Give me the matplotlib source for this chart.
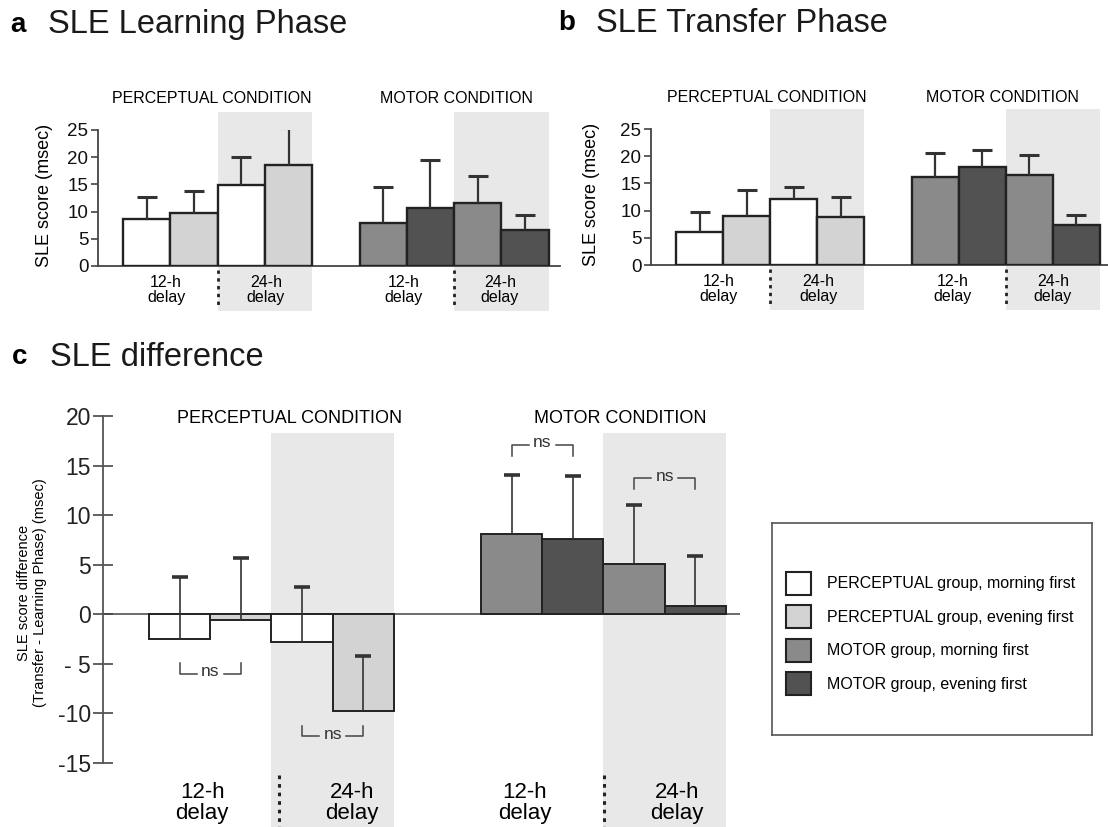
import numpy as np
import matplotlib
matplotlib.use("Agg")
import matplotlib.pyplot as plt
from matplotlib.patches import Rectangle, Patch

plt.rcParams['font.family'] = ['Liberation Sans', 'DejaVu Sans']

W, H = 1108, 827

# bar order in each condition: 12-h morning, 12-h evening, 24-h morning, 24-h evening
groups = ['PERCEPTUAL group, morning first', 'PERCEPTUAL group, evening first',
          'MOTOR group, morning first', 'MOTOR group, evening first']
colors = ['#ffffff', '#d3d3d3', '#8a8a8a', '#525252']
conditions = ['PERCEPTUAL CONDITION', 'MOTOR CONDITION']
delay_labels = ['12-h\ndelay', '24-h\ndelay']

# learning phase (msec), mean and SEM
learn_perc = [8.6, 9.7, 14.8, 18.6]
learn_perc_err = [4.0, 4.1, 5.2, 6.8]
learn_motor = [7.9, 10.7, 11.5, 6.6]
learn_motor_err = [6.7, 8.7, 5.1, 2.8]

# transfer phase (msec)
transfer_perc = [6.0, 9.0, 12.1, 8.8]
transfer_perc_err = [3.7, 4.8, 2.2, 3.7]
transfer_motor = [16.1, 18.1, 16.5, 7.4]
transfer_motor_err = [4.5, 3.0, 3.7, 1.8]

# transfer - learning difference (msec)
diff_perc = [-2.5, -0.6, -2.8, -9.8]
diff_perc_err = [6.3, 6.3, 5.6, 5.6]
diff_motor = [8.1, 7.6, 5.1, 0.8]
diff_motor_err = [5.9, 6.3, 5.9, 5.1]

perc_cols = [colors[0], colors[1], colors[0], colors[1]]
motor_cols = [colors[2], colors[3], colors[2], colors[3]]

fig = plt.figure(figsize=(W / 100, H / 100), dpi=100)


def px_axes(left, right, top, bottom):
    return fig.add_axes([left / W, 1 - bottom / H, (right - left) / W, (bottom - top) / H])


def draw_bars(ax, xs, vals, errs, cols, lw, elw, cap, capthick):
    ax.bar(xs, vals, width=1.0, color=cols, edgecolor='#222222', linewidth=lw, zorder=3)
    # one-sided error bars: only the upper cap is kept
    _, caps, _ = ax.errorbar(xs, vals, yerr=[np.zeros(len(vals)), errs], fmt='none',
                             ecolor='#333333', elinewidth=elw, capsize=cap,
                             capthick=capthick, zorder=4)
    caps[0].set_visible(False)


def shade(ax, x0, x1, y0, y1):
    ax.add_patch(Rectangle((x0, y0), x1 - x0, y1 - y0, facecolor='#e8e8e8',
                           edgecolor='none', zorder=0, clip_on=False))


def dotted(ax, x, y0, y1, lw=2):
    ax.plot([x, x], [y0, y1], color='#222222', lw=lw, ls=(0, (1.2, 1.6)),
            clip_on=False, zorder=5)


def small_panel(ax, perc, perc_err, motor, motor_err, xlim, lab_x, title_x, shade_top):
    xp = np.arange(4)
    xm = np.arange(4) + 5
    shade(ax, 1.5, 3.5, -8.2, shade_top)
    shade(ax, 6.5, 8.5, -8.2, shade_top)
    draw_bars(ax, xp, perc, perc_err, perc_cols, 1.7, 1.6, 7, 2.2)
    draw_bars(ax, xm, motor, motor_err, motor_cols, 1.7, 1.6, 7, 2.2)
    ax.set_xlim(*xlim)
    ax.set_ylim(0, 25)
    ax.set_yticks([0, 5, 10, 15, 20, 25])
    ax.set_xticks([])
    ax.tick_params(axis='y', direction='out', length=5, width=1.2, color='#444444',
                   labelsize=13.5, pad=2, labelcolor='#111111')
    for s in ['top', 'right']:
        ax.spines[s].set_visible(False)
    for s in ['left', 'bottom']:
        ax.spines[s].set_color('#444444')
        ax.spines[s].set_linewidth(1.3)
    ax.patch.set_visible(False)
    ax.set_ylabel('SLE score (msec)', fontsize=13)
    for i, x in enumerate(lab_x):
        ax.text(x, -4.4, delay_labels[i % 2], ha='center', va='center', fontsize=11.5,
                linespacing=1.05, clip_on=False)
    dotted(ax, 1.5, -0.8, -7.5)
    dotted(ax, 6.5, -0.8, -7.5)
    for x, t in zip(title_x, conditions):
        ax.text(x, 30.7, t, ha='center', va='center', fontsize=11.5, clip_on=False)


# a: learning phase
ax_a = px_axes(98, 560, 130, 266)
small_panel(ax_a, learn_perc, learn_perc_err, learn_motor, learn_motor_err,
            (-1.03, 8.74), [0.41, 2.52, 5.44, 7.47], [1.37, 6.54], 28.3)
ax_a.yaxis.set_label_coords(-0.097, 0.52)

# b: transfer phase
ax_b = px_axes(651, 1108, 129, 265)
small_panel(ax_b, transfer_perc, transfer_perc_err, transfer_motor, transfer_motor_err,
            (-1.03, 8.67), [0.41, 2.53, 5.38, 7.5], [1.43, 6.42], 28.7)
ax_b.yaxis.set_label_coords(-0.112, 0.52)

# c: difference
ax_c = px_axes(103, 740, 416, 763)
xp = np.arange(4)
xm = np.arange(4) + 5.42
shade(ax_c, 1.5, 3.5, -22, 18.3)
shade(ax_c, 6.92, 8.92, -22, 18.3)
draw_bars(ax_c, xp, diff_perc, diff_perc_err, perc_cols, 1.4, 1.2, 6, 2.6)
draw_bars(ax_c, xm, diff_motor, diff_motor_err, motor_cols, 1.4, 1.2, 6, 2.6)
ax_c.axhline(0, color='#444444', lw=1.1, zorder=2)
ax_c.set_xlim(-1.25, 9.15)
ax_c.set_ylim(-15, 20)
ax_c.set_yticks([-15, -10, -5, 0, 5, 10, 15, 20])
ax_c.set_yticklabels(['-15', '-10', '- 5', '0', '5', '10', '15', '20'])
ax_c.set_xticks([])
ax_c.tick_params(axis='y', direction='inout', length=15, width=1.3, color='#555555',
                 labelsize=16.5, pad=1, labelcolor='#222222')
for s in ['top', 'right', 'bottom']:
    ax_c.spines[s].set_visible(False)
ax_c.spines['left'].set_color('#555555')
ax_c.spines['left'].set_linewidth(1.3)
ax_c.patch.set_visible(False)
ax_c.set_ylabel('SLE score difference\n(Transfer - Learning Phase) (msec)', fontsize=10.5)
ax_c.yaxis.set_label_coords(-0.088, 0.49)

for x, i in zip([0.37, 2.81, 5.64, 8.12], [0, 1, 0, 1]):
    ax_c.text(x, -19.0, delay_labels[i], ha='center', va='center', fontsize=16,
              linespacing=1.0, clip_on=False)
dotted(ax_c, 1.62, -16.2, -21.5, lw=2.2)
dotted(ax_c, 6.93, -16.2, -21.5, lw=2.2)
ax_c.text(1.8, 19.7, conditions[0], ha='center', va='center', fontsize=13, clip_on=False)
ax_c.text(7.19, 19.7, conditions[1], ha='center', va='center', fontsize=13, clip_on=False)

# "ns" comparison brackets: (left x, right x, level, tick direction)
brackets = [(xp[0], xp[1], -6.0, 1.1), (xp[2], xp[3], -12.3, 1.0),
            (xm[0], xm[1], 17.1, -1.1), (xm[2], xm[3], 13.7, -1.1)]
for x0, x1, y, dy in brackets:
    mid = (x0 + x1) / 2
    gap = 0.22
    ax_c.plot([x0, x0, mid - gap], [y + dy, y, y], color='#444444', lw=1.1, zorder=5)
    ax_c.plot([mid + gap, x1, x1], [y, y, y + dy], color='#444444', lw=1.1, zorder=5)
    ax_c.text(mid, y + 0.2, 'ns', ha='center', va='center', fontsize=12.5, color='#333333',
              zorder=5)

# legend box
lax = px_axes(772, 1092, 523, 735)
lax.set_xticks([])
lax.set_yticks([])
for s in lax.spines.values():
    s.set_color('#555555')
    s.set_linewidth(1.2)
handles = [Patch(facecolor=c, edgecolor='#222222', linewidth=1.5) for c in colors]
lax.legend(handles, groups, loc='center left', bbox_to_anchor=(0.044, 0.479), frameon=False,
           fontsize=11.5, handlelength=1.55, handleheight=1.85, handletextpad=1.0,
           labelspacing=0.65, borderpad=0, borderaxespad=0)

# panel headings
for x, y, letter, title in [(10, 25, 'a', 'SLE Learning Phase'),
                            (558, 23, 'b', 'SLE Transfer Phase'),
                            (12, 357, 'c', 'SLE difference')]:
    fig.text(x / W, 1 - y / H, letter, fontsize=20, fontweight='bold', va='center')
    fig.text((x + 38) / W, 1 - y / H, title, fontsize=23.5, va='center', color='#1a1a1a')

fig.savefig('out.png', dpi=100)
